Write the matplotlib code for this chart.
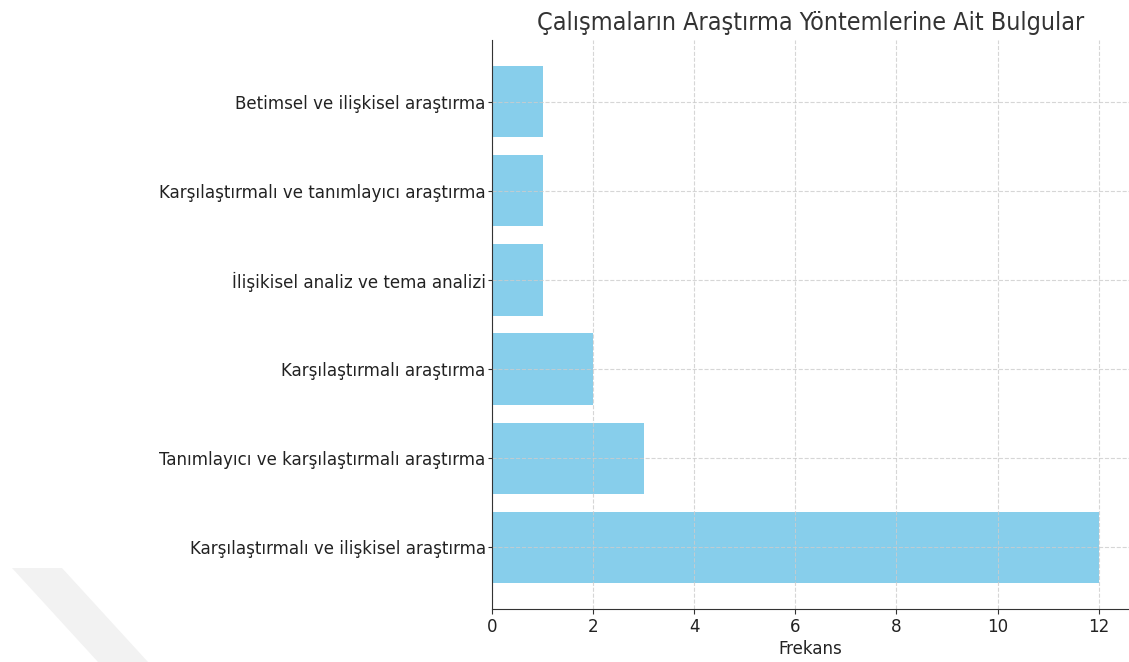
import matplotlib
matplotlib.use("Agg")
import matplotlib.pyplot as plt
from matplotlib.patches import Polygon

categories = [
    "Karşılaştırmalı ve ilişkisel araştırma",
    "Tanımlayıcı ve karşılaştırmalı araştırma",
    "Karşılaştırmalı araştırma",
    "İlişikisel analiz ve tema analizi",
    "Karşılaştırmalı ve tanımlayıcı araştırma",
    "Betimsel ve ilişkisel araştırma",
]
values = [12, 3, 2, 1, 1, 1]

plt.rcParams['font.family'] = ['DejaVu Sans']
plt.rcParams['font.stretch'] = 'condensed'

fig = plt.figure(figsize=(11.29, 6.62), dpi=100)
ax = fig.add_axes([492/1129, 1 - 609/662, (1129-492)/1129, (609-40)/662])

# faint watermark shape
wm = Polygon([[12/1129, 1-568/662], [62/1129, 1-568/662], [148/1129, 1-662/662], [98/1129, 1-662/662]],
             closed=True, transform=fig.transFigure, facecolor='#f2f2f2', edgecolor='none', zorder=0)
fig.patches.append(wm)

ax.barh(categories, values, color='skyblue', height=0.8, zorder=1)
ax.grid(True, linestyle='--', color='#cccccc', linewidth=0.8, alpha=0.8, zorder=2)
ax.set_axisbelow(False)
for s in ['top', 'right']:
    ax.spines[s].set_visible(False)
for s in ['left', 'bottom']:
    ax.spines[s].set_color('#333333')
    ax.spines[s].set_zorder(4)
ax.tick_params(axis='y', labelsize=13.3, colors='#333333', labelcolor='#222222', pad=1.5, length=3)
ax.tick_params(axis='x', labelsize=13.3, colors='#333333', labelcolor='#222222', pad=3)
ax.set_xlabel("Frekans", fontsize=13.3, color='#222222', labelpad=3)
ax.set_title("Çalışmaların Araştırma Yöntemlerine Ait Bulgular", fontsize=18, color='#333333', pad=7)
ax.set_xticks([0, 2, 4, 6, 8, 10, 12])

fig.savefig("out.png", dpi=100)
